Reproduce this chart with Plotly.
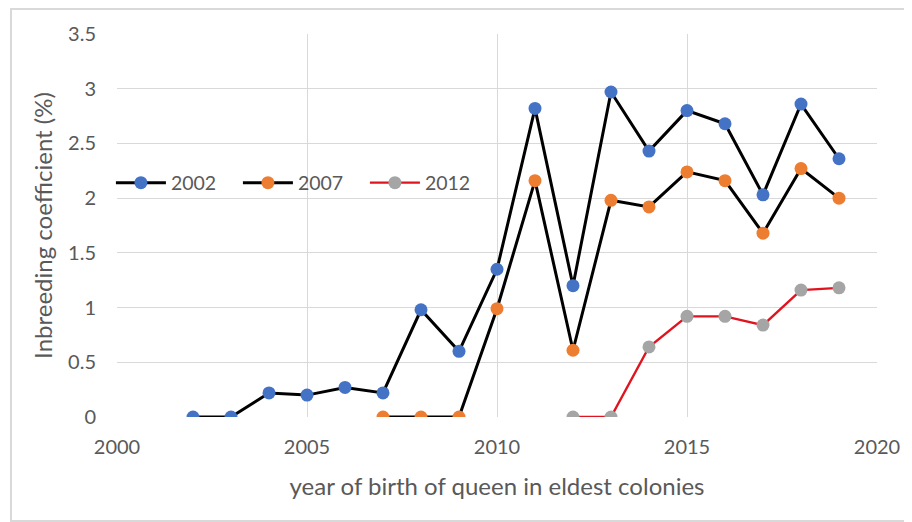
import plotly.graph_objects as go

years_2002 = list(range(2002, 2020))
vals_2002 = [0, 0, 0.22, 0.20, 0.27, 0.22, 0.98, 0.60, 1.35, 2.82, 1.20, 2.97, 2.43, 2.80, 2.68, 2.03, 2.86, 2.36]

years_2007 = list(range(2007, 2020))
vals_2007 = [0, 0, 0, 0.99, 2.16, 0.61, 1.98, 1.92, 2.24, 2.16, 1.68, 2.27, 2.00]

years_2012 = list(range(2012, 2020))
vals_2012 = [0, 0, 0.64, 0.92, 0.92, 0.84, 1.16, 1.18]

series_names = ["2002", "2007", "2012"]
marker_colors = ["#4472C4", "#ED7D31", "#A5A5A5"]
line_colors = ["#000000", "#000000", "#E0141E"]

FONT = "Lato"
GREY = "#595959"

fig = go.Figure()
for name, xs, ys, mc, lc, lw in zip(series_names,
                                     [years_2002, years_2007, years_2012],
                                     [vals_2002, vals_2007, vals_2012],
                                     marker_colors, line_colors, [3, 3, 2.4]):
    fig.add_trace(go.Scatter(
        x=xs, y=ys, name=name, mode="lines+markers",
        line=dict(color=lc, width=lw),
        marker=dict(color=mc, size=13),
    ))

fig.update_layout(
    width=912, height=522,
    margin=dict(l=109, r=43, t=26, b=113),
    paper_bgcolor="white", plot_bgcolor="white",
    font=dict(family=FONT, color=GREY, size=20),
    showlegend=True,
    legend=dict(orientation="h", x=-0.008, xanchor="left", y=0.611, yanchor="middle",
                bgcolor="rgba(0,0,0,0)", font=dict(size=19.5, color=GREY),
                itemwidth=50, entrywidth=62, entrywidthmode="pixels", tracegroupgap=0),
    xaxis=dict(range=[2000, 2020], dtick=5, tick0=2000, showgrid=True,
               gridcolor="#D9D9D9", gridwidth=1, zeroline=False, showline=False,
               ticks="", tickfont=dict(size=20, color=GREY), ticklabelstandoff=16,
               title=dict(text="year of birth of queen in eldest colonies",
                          font=dict(size=24, color=GREY), standoff=21)),
    yaxis=dict(range=[0, 3.5], dtick=0.5, tick0=0, showgrid=True,
               gridcolor="#D9D9D9", gridwidth=1, zeroline=False, showline=False,
               ticks="", tickfont=dict(size=20, color=GREY), ticklabelstandoff=20,
               title=dict(text="Inbreeding coefficient (%)",
                          font=dict(size=24, color=GREY), standoff=8)),
)

fig.add_shape(type="rect", xref="paper", yref="paper",
              x0=-0.1395, x1=1.06, y0=-0.2715, y1=1.065,
              line=dict(color="#D9D9D9", width=2), fillcolor="rgba(0,0,0,0)", layer="below")

fig.write_html("out.html")
